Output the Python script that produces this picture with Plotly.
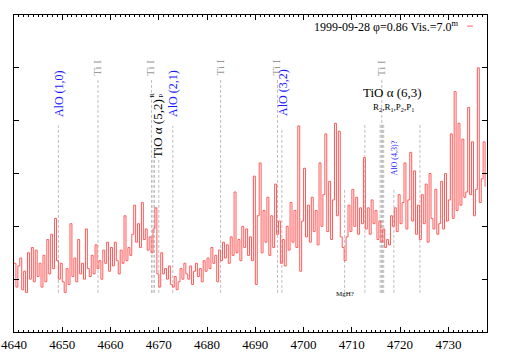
import numpy as np
import plotly.graph_objects as go

# ---------------- data ----------------
wl_start = 4640.0
wl_step = 0.4
flux = [
    1.30, 0.85, 1.25, 1.40, 0.80, 1.15, 0.75, 1.50, 1.00, 1.60,
    0.95, 1.55, 1.05, 1.30, 0.85, 1.45, 0.95, 1.75, 1.10, 1.85,
    1.20, 2.15, 1.35, 1.00, 1.30, 0.95, 0.75, 1.20, 0.90, 2.05,
    1.05, 1.40, 0.95, 1.75, 1.10, 1.30, 1.00, 1.95, 1.20, 1.05,
    1.45, 1.10, 1.65, 1.20, 1.35, 1.00, 1.55, 1.30, 1.70, 1.15,
    1.60, 1.25, 1.70, 1.35, 1.10, 1.55, 1.30, 2.20, 1.35, 1.60,
    1.45, 1.85, 2.40, 1.70, 2.05, 1.60, 2.45, 1.75, 1.95, 1.55,
    1.80, 1.50, 1.95, 2.35, 1.10, 0.85, 1.50, 1.10, 1.20, 1.00,
    1.25, 0.90, 0.85, 1.05, 0.80, 0.95, 1.20, 1.00, 1.30, 1.10,
    1.00, 1.25, 0.90, 1.15, 1.30, 1.05, 1.20, 0.95, 1.35, 1.15,
    1.40, 1.20, 1.60, 1.30, 1.45, 0.95, 1.55, 1.35, 1.70, 1.40,
    1.65, 1.30, 1.80, 1.45, 2.65, 1.50, 1.75, 1.35, 2.00, 1.60,
    1.95, 1.45, 1.80, 1.35, 2.95, 0.90, 2.20, 3.20, 1.50, 2.30,
    1.70, 2.55, 1.45, 2.20, 1.60, 2.80, 1.85, 2.10, 1.30, 1.75,
    1.25, 2.00, 1.55, 2.45, 1.70, 2.30, 1.60, 3.90, 1.15, 2.10,
    3.10, 1.80, 2.40, 1.70, 2.55, 1.90, 2.30, 1.65, 3.20, 2.00,
    2.60, 3.75, 1.90, 2.85, 1.75, 2.50, 3.95, 2.20, 3.80, 1.80,
    1.60, 1.35, 1.80, 2.40, 1.90, 2.70, 2.00, 2.55, 1.85, 2.35,
    2.05, 3.30, 1.95, 2.35, 1.85, 2.50, 2.05, 2.30, 1.75, 2.10,
    1.70, 1.95, 1.60, 1.75, 1.65, 2.20, 2.00, 2.35, 1.90, 2.60,
    2.05, 2.45, 3.20, 1.95, 2.50, 3.40, 2.10, 3.05, 1.85, 2.40,
    1.75, 2.60, 2.05, 2.80, 1.70, 3.00, 2.15, 1.95, 2.70, 1.85,
    2.05, 2.85, 1.95, 3.00, 2.10, 2.50, 3.75, 2.15, 4.55, 2.30,
    3.95, 2.40, 3.65, 2.55, 2.65, 4.25, 2.60, 3.60, 2.20, 2.70,
    5.00, 2.45, 2.90, 3.60, 2.75,
]
wavelength = wl_start + wl_step * np.arange(len(flux))

# identification lines: wavelength, top of dashed line
ident_wl = [4649.2, 4657.4, 4668.5, 4668.8, 4669.1, 4670.0, 4672.9, 4682.8,
            4694.6, 4695.5, 4708.5, 4712.7, 4715.85, 4716.1, 4716.2, 4716.35,
            4716.6, 4718.7, 4724.1]
ident_top = [3.91, 4.77, 4.77, 3.30, 3.30, 3.30, 3.90, 4.77,
             4.77, 3.83, 2.69, 3.92, 3.92, 3.92, 4.77, 3.92,
             3.92, 2.73, 3.92]
ident_bottom = 0.74

# labels: text, wavelength, flux position, colour, size, angle
lab_text = ["AlO (1,0)", "Ti I", "Ti I", "TiO α (5,2)", "R", "P", "AlO (2,1)", "Ti I",
            "Ti I", "AlO (3,2)", "TiO α (6,3)", "R<sub>2</sub>,R<sub>1</sub>,P<sub>2</sub>,P<sub>1</sub>",
            "Ti I", "AlO (4,3)?", "MgH?"]
lab_wl = [4649.2, 4657.2, 4668.2, 4669.6, 4668.7, 4670.5, 4672.9, 4682.6,
          4694.2, 4695.6, 4718.5, 4718.6, 4716.1, 4718.9, 4708.5]
lab_y = [4.51, 5.00, 5.00, 3.86, 4.48, 4.48, 4.52, 5.00,
         5.00, 4.53, 4.53, 4.25, 5.00, 3.30, 0.71]
lab_col = ["#1a1aff", "#999999", "#999999", "black", "black", "black", "#1a1aff", "#999999",
           "#999999", "#1a1aff", "black", "black", "#999999", "#1a1aff", "black"]
lab_size = [12, 11, 11, 13, 7, 7, 12, 11, 11, 12, 13, 9, 11, 8, 7]
lab_angle = [-90, -90, -90, -90, -90, -90, -90, -90, -90, -90, 0, 0, -90, -90, 0]

legend_label = "1999-09-28 φ=0.86 Vis.=7.0<sup>m</sup>"

x_range = [4640, 4738]
y_range = [0, 6]

# ---------------- figure ----------------
SERIF = "Liberation Serif, Times New Roman, serif"
RED = "#ff5a5a"
fig = go.Figure()

# dashed identification lines
lx, ly = [], []
for w, t in zip(ident_wl, ident_top):
    lx += [w, w, None]
    ly += [ident_bottom, t, None]
fig.add_trace(go.Scatter(x=lx, y=ly, mode="lines",
                         line=dict(color="#bdbdbd", width=1, dash="3px,2px"),
                         hoverinfo="skip", showlegend=False))

# spectrum
fig.add_trace(go.Scatter(x=wavelength, y=flux, mode="lines",
                         line=dict(color=RED, width=1, shape="hv"),
                         showlegend=False))

for t, w, yv, c, s, a in zip(lab_text, lab_wl, lab_y, lab_col, lab_size, lab_angle):
    fig.add_annotation(x=w, y=yv, xref="x", yref="y", text=t, showarrow=False,
                       textangle=a, font=dict(family=SERIF, size=s, color=c))

# key
fig.add_annotation(x=0.943, y=0.965, xref="paper", yref="paper", xanchor="right",
                   yanchor="middle", text=legend_label, showarrow=False,
                   font=dict(family=SERIF, size=12, color="black"))
fig.add_shape(type="line", xref="paper", yref="paper", x0=0.958, x1=0.970,
              y0=0.965, y1=0.965, line=dict(color=RED, width=1))

fig.update_xaxes(range=x_range, dtick=10, tick0=4640, ticks="inside", ticklen=5,
                 tickcolor="black", mirror="allticks", showline=True, linecolor="black",
                 linewidth=1, showgrid=False, zeroline=False, automargin=False,
                 ticklabeloverflow="allow",
                 tickfont=dict(family=SERIF, size=13, color="black"),
                 minor=dict(dtick=1, ticks="inside", ticklen=2, tickcolor="black"))
fig.update_yaxes(range=y_range, dtick=1, tick0=0, ticks="inside", ticklen=5,
                 tickcolor="black", mirror="allticks", showline=True, linecolor="black",
                 linewidth=1, showgrid=False, zeroline=False, showticklabels=False,
                 automargin=False)

fig.update_layout(width=509, height=356, margin=dict(l=14, r=22, t=15, b=24),
                  paper_bgcolor="white", plot_bgcolor="white")

# remove the browser's default 8px body margin so the figure fills the window
fig.write_html("out.html", config={"displayModeBar": False},
               post_script="document.body.style.margin='0';")
